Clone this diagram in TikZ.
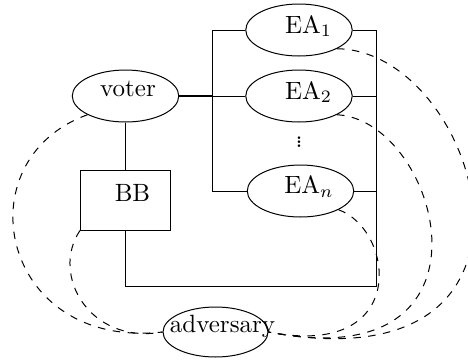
\documentclass[tikz,border=0pt]{standalone}
\usetikzlibrary{shapes.geometric}
\begin{document}
\begin{tikzpicture}[x=0.4pt,y=-0.4pt,
  party/.style={draw,ellipse,inner sep=0pt,minimum width=42.6pt,minimum height=20.8pt},
  board/.style={draw,rectangle,inner sep=0pt,minimum width=36pt,minimum height=24pt},
  lbl/.style={anchor=base,inner sep=0pt},
  leak/.style={dashed}]
\useasboundingbox (0,0) rectangle (468,361);
% shapes
\node[party] (voter) at (125.5,96) {};
\node[party] (EA1) at (299,30) {};
\node[party] (EA2) at (299,96) {};
\node[party] (EAn) at (300.5,191) {};
\node[board] (BB) at (125.5,200) {};
\node[party,minimum width=42pt,minimum height=20pt] (adv) at (215.5,332) {};
% texts
\node[lbl] (voterT) at (128,96) {voter};
\node[lbl] (EA1T) at (308.5,33) {EA$_1$};
\node[lbl] (EA2T) at (308.5,99) {EA$_2$};
\node[lbl] (EAnT) at (309,193.5) {EA$_n$};
\node[lbl] (BBT) at (132.5,201.5) {BB};
\node[lbl] (advT) at (222.5,332) {adversary};
\node[inner sep=0pt] (dots) at (299,142) {\vbox{\baselineskip=1.7pt\lineskiplimit=-\maxdimen\hbox{.}\hbox{.}\hbox{.}}};
% junctions
\coordinate (jm) at (212,96);
\coordinate (jt) at (212,30);
\coordinate (jb) at (212,191);
\coordinate (rt) at (376,30);
\coordinate (rb) at (376,286);
\coordinate (bl) at (125.5,286);
% solid connectors
\draw[line width=0.8pt] (voter.east) -- (jm);
\draw (jm) -- (EA2.west);
\draw (EA1.west) -- (jt) -- (jb) -- (EAn.west);
\draw (voter.south) -- (BB.north);
\draw (EA1.east) -- (rt) -- (rb) -- (bl) -- (BB.south);
\draw (EA2.east) -- (EA2.east -| rt);
\draw (EAn.east) -- (EAn.east -| rt);
% dashed leaks
\draw[leak] (voter.south west) .. controls (-38,160) and (0,350) .. (adv.west);
\draw[leak] (BB.south west) .. controls (50,275) and (90,345) .. (adv.west);
\draw[leak] (EA1.south east) .. controls (480,50) and (580,390) .. (adv.east);
\draw[leak] (EA2.south east) .. controls (440,120) and (510,380) .. (adv.east);
\draw[leak] (EAn.south east) .. controls (395,230) and (410,360) .. (adv.east);
\end{tikzpicture}
\end{document}
